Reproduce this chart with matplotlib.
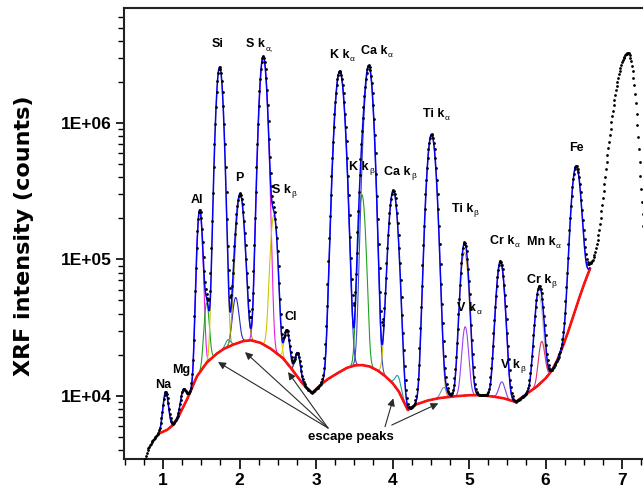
import numpy as np
import matplotlib
matplotlib.use('Agg')
import matplotlib.pyplot as plt
from matplotlib import font_manager
from matplotlib.ticker import LogLocator, FuncFormatter, MultipleLocator, NullFormatter

# фон (тормозное излучение), кэВ и отсчёты
bg_energy = [0.74, 0.80, 0.86, 0.90, 0.95, 1.05, 1.13, 1.20, 1.31, 1.44, 1.57, 1.70, 1.79, 1.90,
             2.05, 2.15, 2.27, 2.40, 2.49, 2.57, 2.66, 2.79, 2.88, 2.95,
             3.05, 3.15, 3.25, 3.40, 3.51, 3.60, 3.70, 3.80, 3.90, 4.00, 4.08, 4.15, 4.20,
             4.30, 4.45, 4.60, 4.80, 5.00, 5.15, 5.30, 5.45, 5.61,
             5.75, 5.88, 6.00, 6.08, 6.15, 6.22, 6.29, 6.36, 6.43, 6.50, 6.58]
bg_counts = [3000, 4000, 4700, 5000, 5300, 5600, 6100, 7000, 9300, 13800, 17500, 20300, 22000, 23500,
             25200, 25500, 24500, 22300, 20400, 18800, 16300, 13000, 11300, 10500,
             11900, 13200, 14300, 16000, 16700, 16800, 16400, 15400, 14000, 12400, 10800, 9000, 7850,
             8600, 9200, 9600, 9900, 10100, 10100, 9900, 9600, 9000,
             10300, 11600, 13400, 15200, 18000, 22500, 28800, 38000, 50000, 65000, 85000]

# линии спектра: положение, амплитуда над фоном, ширина (sigma)
peak_name = ['Na', 'Mg', 'Al', 'K esc', 'Si', 'K kb esc', 'Ca esc', 'P', 'S ka', 'S kb', 'Cl',
             'Ti esc', 'K ka', 'K kb', 'Ca ka', 'Ca kb', 'Mn esc', 'Ti ka', 'Fe esc', 'Ti kb',
             'V ka', 'Cr ka', 'V kb', 'Cr kb', 'Mn ka', 'Fe']
peak_energy = [1.035, 1.265, 1.48, 1.57, 1.74, 1.85, 1.95, 2.01, 2.31, 2.45, 2.62,
               2.76, 3.31, 3.60, 3.69, 4.01, 4.07, 4.51, 4.67, 4.94,
               4.95, 5.41, 5.43, 5.91, 5.95, 6.40]
peak_amp = [5100, 2900, 2.16e5, 30500, 2.55e6, 3000, 28500, 2.7e5, 3.05e6, 1.9e5, 13000,
            7000, 2.385e6, 2.8e5, 2.6e6, 3.08e5, 3000, 8.15e5, 1800, 1.02e5,
            22000, 85000, 3000, 43400, 12400, 4.4e5]
peak_width = [0.035, 0.035, 0.034, 0.032, 0.043, 0.035, 0.040, 0.050, 0.046, 0.042, 0.035,
              0.035, 0.058, 0.042, 0.052, 0.055, 0.040, 0.056, 0.040, 0.050,
              0.040, 0.052, 0.040, 0.050, 0.040, 0.058]
peak_color = ['#808000', '#808000', '#e020e0', '#20a020', '#d4c400', '#20a0a0', '#2828c8',
              '#a0a000', '#e020e0', '#d4c400', '#e8d800', '#2828c8', '#3838c8', '#20a020',
              '#4848c8', '#c0c000', '#20a0a0', '#c08040', '#909090', '#f0a020', '#a040f0',
              '#e0206a', '#8040e0', '#c0c0c0', '#e0306a', '#b0b0b0']

# широкий пик справа (только измерение)
tail_energy = 7.08
tail_height = 3.17e6
tail_width_left = 0.14
tail_width_right = 0.075

fit_width_scale = 0.93

font_names = {f.name for f in font_manager.fontManager.ttflist}
if 'Liberation Sans Narrow' in font_names:
    text_font = ['Liberation Sans Narrow', 'DejaVu Sans']
    tick_size, label_size, sub_size, esc_size = 15, 10.5, 7, 11
else:
    text_font = ['Liberation Sans', 'DejaVu Sans']
    tick_size, label_size, sub_size, esc_size = 12.5, 9, 6, 9.5


def background(e):
    return 10 ** np.interp(e, bg_energy, np.log10(bg_counts))


def gauss(e, c, a, w):
    return a * np.exp(-0.5 * ((e - c) / w) ** 2)


e_data = np.arange(0.74, 7.55, 0.01)
e_fit = np.linspace(0.95, 6.58, 1200)

data = background(e_data)
for c, a, w in zip(peak_energy, peak_amp, peak_width):
    data = data + gauss(e_data, c, a, w)
tail_w = np.where(e_data < tail_energy, tail_width_left, tail_width_right)
data = data + tail_height * np.exp(-0.5 * ((e_data - tail_energy) / tail_w) ** 2)

bg_fit = background(e_fit)
fit = bg_fit.copy()
for c, a, w in zip(peak_energy, peak_amp, peak_width):
    fit = fit + gauss(e_fit, c, a, w * fit_width_scale)

fig = plt.figure(figsize=(6.43, 4.90), dpi=100)
ax = fig.add_axes([124 / 643, 31 / 490, 540 / 643, 451 / 490])

for c, a, w, col in zip(peak_energy, peak_amp, peak_width, peak_color):
    ax.plot(e_fit, bg_fit + gauss(e_fit, c, a, w * fit_width_scale), color=col, lw=0.8, zorder=2)
ax.plot(e_fit, bg_fit, color='#ff1010', lw=1.9, zorder=3)
ax.plot(e_fit, fit, color='#0000ff', lw=1.1, zorder=4)
ax.plot(e_data, data, 'o', color='black', ms=2.0, mew=0, zorder=5)

ax.set_yscale('log')
ax.set_xlim(0.49, 0.49 + 540 / 76.5)
ax.set_ylim(3440, 6.95e6)

ax.xaxis.set_major_locator(MultipleLocator(1))
ax.xaxis.set_minor_locator(MultipleLocator(0.25))
ax.yaxis.set_major_locator(LogLocator(base=10))
ax.yaxis.set_minor_locator(LogLocator(base=10, subs=np.arange(2, 10)))
ax.yaxis.set_minor_formatter(NullFormatter())
ax.yaxis.set_major_formatter(FuncFormatter(lambda v, p: '1E+%02d' % round(np.log10(v))))

for s in ['left', 'bottom', 'top', 'right']:
    ax.spines[s].set_linewidth(1.5)
    ax.spines[s].set_color('#222222')
ax.tick_params(axis='x', which='major', length=7, width=1.2, direction='out', pad=3)
ax.tick_params(axis='x', which='minor', length=4, width=1.0, direction='out')
ax.tick_params(axis='y', which='major', length=6, width=1.2, direction='out', pad=3)
ax.tick_params(axis='y', which='minor', length=4, width=1.0, direction='out')
ax.tick_params(top=False, right=False, which='both')
for lab in ax.get_xticklabels() + ax.get_yticklabels():
    lab.set_family(text_font)
    lab.set_fontsize(tick_size)
    lab.set_fontweight('bold')

fig.text(24 / 643, 1 - 236 / 490, 'XRF intensity (counts)', rotation=90, ha='center', va='center',
         fontsize=16, fontweight='bold', family='DejaVu Sans')

# подписи пиков: (текст, индекс, энергия левого края, высота центра)
peak_labels = [('Na', '', 0.895, 11970), ('Mg', '', 1.118, 15420), ('Al', '', 1.366, 2.72e5),
               ('Si', '', 1.641, 3.78e6), ('S k', '\u03b1,', 2.085, 3.78e6), ('P', '', 1.941, 3.94e5),
               ('S k', '\u03b2', 2.425, 3.21e5), ('Cl', '', 2.582, 37800),
               ('K k', '\u03b1', 3.183, 3.13e6), ('Ca k', '\u03b1', 3.588, 3.35e6),
               ('K k', '\u03b2', 3.431, 4.73e5), ('Ca k', '\u03b2', 3.889, 4.35e5),
               ('Ti k', '\u03b1', 4.399, 1.16e6), ('Ti k', '\u03b2', 4.778, 2.33e5),
               ('V k', '\u03b1', 4.843, 43900), ('Cr k', '\u03b1', 5.275, 1.36e5),
               ('Mn k', '\u03b1', 5.758, 1.34e5), ('Cr k', '\u03b2', 5.758, 70500),
               ('V k', '\u03b2', 5.418, 16800), ('Fe', '', 6.307, 6.53e5)]
for main, sub, x, y in peak_labels:
    t = ax.text(x, y, main, ha='left', va='center', fontsize=label_size, fontweight='bold',
                family=text_font, zorder=6)
    if sub:
        ax.annotate(sub, xy=(1, 0.12), xycoords=t, xytext=(0.3, 0), textcoords='offset points',
                    ha='left', va='center', fontsize=sub_size, family=text_font, zorder=6)

ax.text(3.458, 4980, 'escape peaks', ha='center', va='center', fontsize=esc_size, fontweight='bold',
        family=text_font, zorder=6)
arrows = [((3.157, 5800), (1.719, 17660)), ((3.157, 5800), (2.072, 20900)),
          ((3.157, 5800), (2.634, 14920)), ((3.902, 5930), (4.01, 9570)),
          ((3.99, 6100), (4.599, 8800))]
for tail, head in arrows:
    ax.annotate('', xy=head, xytext=tail,
                arrowprops=dict(arrowstyle='-|>', color='#2a2a2a', lw=0.8, mutation_scale=11,
                                shrinkA=0, shrinkB=0), zorder=6)

fig.savefig('out.png', dpi=100)
